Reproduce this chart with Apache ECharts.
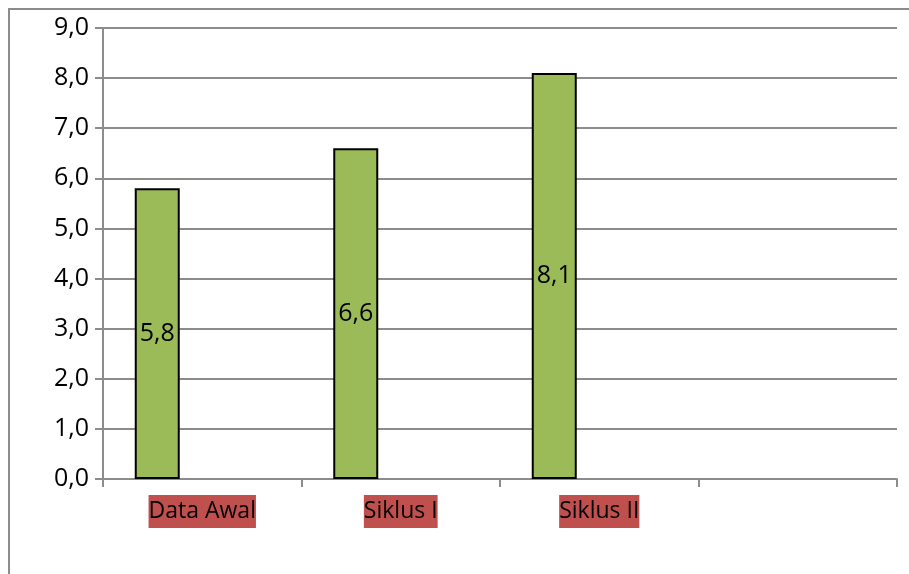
<!DOCTYPE html>
<html>
<head>
<meta charset="utf-8">
<script src="https://cdn.jsdelivr.net/npm/echarts@6/dist/echarts.min.js"></script>
<style>
  html, body { margin: 0; padding: 0; background: #fff; }
  #chart { width: 909px; height: 574px; }
</style>
</head>
<body>
<div id="chart"></div>
<script>
var categories = ['Data Awal', 'Siklus I', 'Siklus II', ''];
var nilai = [5.8, 6.6, 8.1, null];
var kosong = [null, null, null, null];

function koma(v) {
    return v.toFixed(1).replace('.', ',');
}

var chart = echarts.init(document.getElementById('chart'));
var font = '"Open Sans", sans-serif';
var option = {
    animation: false,
    graphic: [{
        type: 'rect',
        shape: { x: 9, y: 9, width: 960, height: 640 },
        style: { fill: 'none', stroke: '#8c8c8c', lineWidth: 2 },
        silent: true
    }],
    grid: { left: 103, right: 12, top: 28, bottom: 95 },
    xAxis: {
        type: 'category',
        data: categories,
        axisLine: { lineStyle: { color: '#8c8c8c', width: 2 } },
        axisTick: { show: true, length: 8, lineStyle: { color: '#8c8c8c', width: 2 } },
        axisLabel: {
            color: '#000',
            fontFamily: font,
            fontSize: 23,
            backgroundColor: '#C0504D',
            lineHeight: 33,
            padding: [0, 0, 0, 0],
            margin: 16
        }
    },
    yAxis: {
        type: 'value',
        min: 0,
        max: 9,
        interval: 1,
        axisLine: { show: true, lineStyle: { color: '#8c8c8c', width: 2 } },
        axisTick: { show: true, length: 8, lineStyle: { color: '#8c8c8c', width: 2 } },
        splitLine: { lineStyle: { color: '#8c8c8c', width: 2 } },
        axisLabel: {
            color: '#000',
            fontFamily: font,
            fontSize: 25,
            margin: 14,
            formatter: function (v) { return koma(v); }
        }
    },
    series: [{
        type: 'bar',
        data: nilai,
        barWidth: 45,
        barGap: '0%',
        barCategoryGap: '32%',
        itemStyle: { color: '#9BBB59', borderColor: '#000', borderWidth: 2 },
        label: {
            show: true,
            position: 'inside',
            color: '#000',
            fontFamily: font,
            fontSize: 25,
            formatter: function (p) { return koma(p.value); }
        }
    }, {
        type: 'bar',
        data: kosong,
        barWidth: 45
    }, {
        type: 'bar',
        data: kosong,
        barWidth: 45
    }]
};
chart.setOption(option);
</script>
</body>
</html>
